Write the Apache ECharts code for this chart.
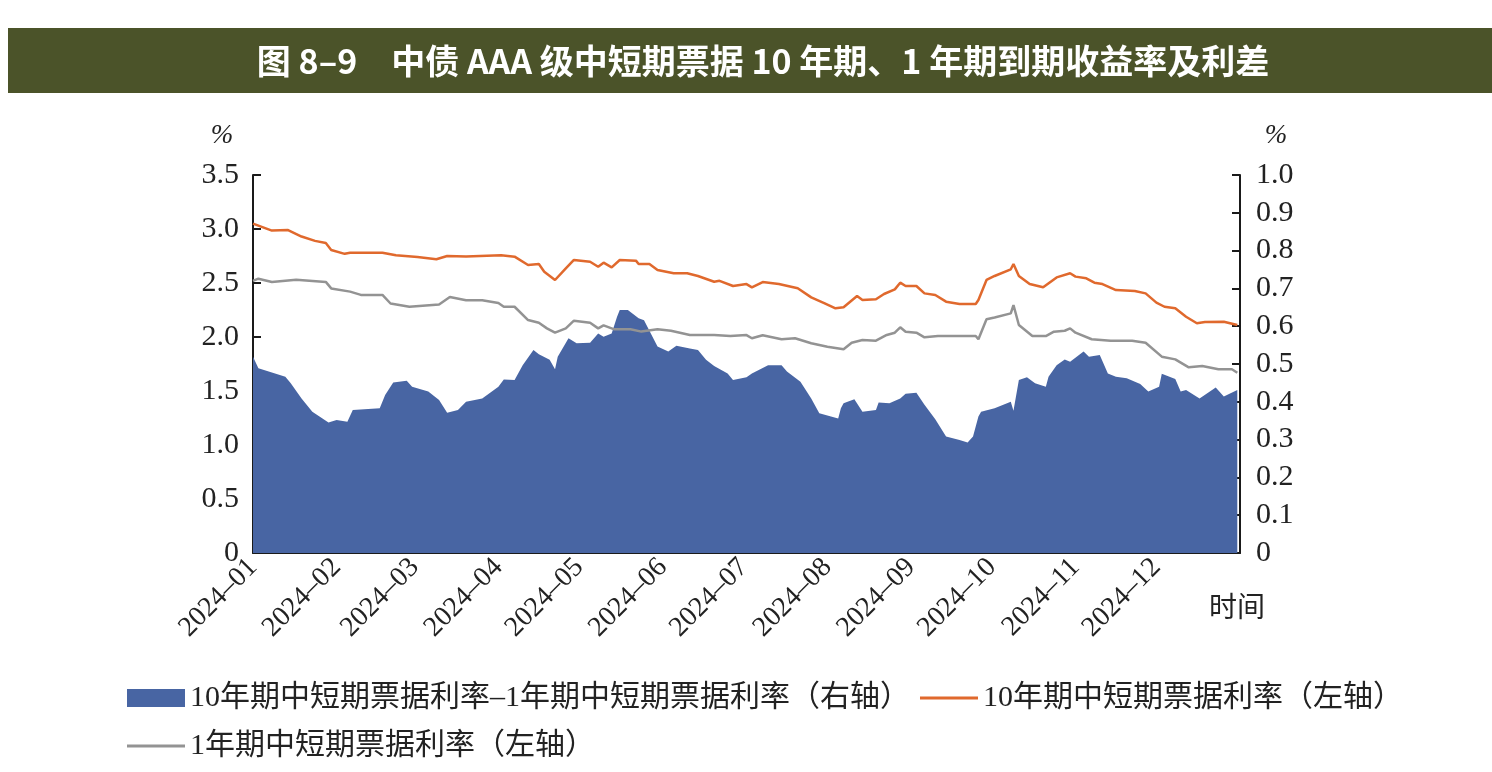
<!DOCTYPE html>
<html>
<head>
<meta charset="utf-8">
<script src="https://cdn.jsdelivr.net/npm/echarts@6/dist/echarts.min.js"></script>
<style>
  html, body { margin: 0; padding: 0; background: #fff; }
  #chart { width: 1492px; height: 772px; }
</style>
</head>
<body>
<div id="chart"></div>
<script>
// 10年期收益率（左轴），[月-日, %]
var rate10y = [
    ['01-01', 3.05], ['01-08', 2.985], ['01-14', 2.99], ['01-19', 2.93], ['01-24', 2.89], ['01-28', 2.87],
    ['01-30', 2.805], ['02-04', 2.77], ['02-06', 2.78], ['02-18', 2.78], ['02-23', 2.756], ['03-02', 2.74],
    ['03-09', 2.72], ['03-13', 2.75], ['03-20', 2.745], ['04-02', 2.756], ['04-07', 2.744], ['04-12', 2.667],
    ['04-16', 2.676], ['04-18', 2.605], ['04-22', 2.528], ['04-26', 2.636], ['04-29', 2.713], ['05-05', 2.697],
    ['05-08', 2.651], ['05-10', 2.688], ['05-13', 2.645], ['05-16', 2.713], ['05-22', 2.707], ['05-23', 2.676],
    ['05-27', 2.676], ['05-30', 2.62], ['06-05', 2.59], ['06-10', 2.59], ['06-14', 2.565], ['06-20', 2.512],
    ['06-22', 2.52], ['06-27', 2.472], ['07-02', 2.49], ['07-04', 2.46], ['07-08', 2.509], ['07-14', 2.49],
    ['07-21', 2.451], ['07-26', 2.367], ['07-31', 2.312], ['08-04', 2.266], ['08-07', 2.275], ['08-12', 2.38],
    ['08-14', 2.343], ['08-19', 2.349], ['08-22', 2.398], ['08-26', 2.441], ['08-28', 2.503], ['08-30', 2.472],
    ['09-03', 2.472], ['09-06', 2.404], ['09-10', 2.389], ['09-14', 2.327], ['09-19', 2.306], ['09-25', 2.306],
    ['09-26', 2.343], ['09-29', 2.528], ['10-02', 2.565], ['10-08', 2.627], ['10-09', 2.676], ['10-11', 2.565],
    ['10-15', 2.49], ['10-20', 2.46], ['10-25', 2.552], ['10-30', 2.59], ['11-01', 2.559], ['11-05', 2.543],
    ['11-08', 2.503], ['11-11', 2.49], ['11-16', 2.435], ['11-23', 2.426], ['11-27', 2.404], ['12-01', 2.318],
    ['12-04', 2.28], ['12-08', 2.266], ['12-12', 2.188], ['12-16', 2.127], ['12-19', 2.139], ['12-26', 2.142],
    ['12-31', 2.111]
];

// 1年期收益率（左轴）
var rate1y = [
    ['01-01', 2.52], ['01-03', 2.54], ['01-08', 2.51], ['01-17', 2.53], ['01-28', 2.51], ['01-30', 2.45],
    ['02-06', 2.42], ['02-10', 2.39], ['02-18', 2.39], ['02-21', 2.31], ['02-28', 2.28], ['03-10', 2.30],
    ['03-14', 2.37], ['03-20', 2.34], ['03-26', 2.34], ['04-01', 2.315], ['04-03', 2.28], ['04-07', 2.28],
    ['04-12', 2.157], ['04-16', 2.132], ['04-19', 2.08], ['04-22', 2.04], ['04-26', 2.08], ['04-29', 2.151],
    ['05-05', 2.132], ['05-08', 2.08], ['05-10', 2.108], ['05-14', 2.071], ['05-20', 2.071], ['05-24', 2.05],
    ['05-30', 2.071], ['06-04', 2.058], ['06-11', 2.019], ['06-20', 2.019], ['06-26', 2.009], ['07-02', 2.018],
    ['07-04', 1.988], ['07-08', 2.016], ['07-15', 1.979], ['07-20', 1.988], ['07-26', 1.942], ['08-01', 1.91],
    ['08-07', 1.886], ['08-10', 1.947], ['08-14', 1.972], ['08-19', 1.966], ['08-23', 2.019], ['08-26', 2.04],
    ['08-28', 2.09], ['08-30', 2.049], ['09-03', 2.04], ['09-06', 1.997], ['09-11', 2.009], ['09-25', 2.009],
    ['09-26', 1.979], ['09-29', 2.164], ['10-02', 2.18], ['10-08', 2.219], ['10-09', 2.296], ['10-11', 2.111],
    ['10-16', 2.009], ['10-21', 2.009], ['10-24', 2.049], ['10-28', 2.058], ['10-30', 2.08], ['11-01', 2.04],
    ['11-07', 1.979], ['11-14', 1.966], ['11-22', 1.966], ['11-27', 1.947], ['12-03', 1.818], ['12-08', 1.793],
    ['12-13', 1.719], ['12-18', 1.731], ['12-24', 1.701], ['12-29', 1.701], ['12-31', 1.669]
];

// 利差（右轴）
var spread = [
    ['01-01', 0.519], ['01-03', 0.489], ['01-13', 0.466], ['01-15', 0.449], ['01-19', 0.409], ['01-23', 0.374],
    ['01-29', 0.345], ['02-01', 0.352], ['02-05', 0.347], ['02-07', 0.378], ['02-17', 0.383], ['02-19', 0.418],
    ['02-22', 0.451], ['02-27', 0.456], ['02-29', 0.44], ['03-06', 0.427], ['03-10', 0.405], ['03-13', 0.371],
    ['03-17', 0.378], ['03-20', 0.40], ['03-26', 0.409], ['04-01', 0.44], ['04-03', 0.459], ['04-07', 0.458],
    ['04-10', 0.497], ['04-14', 0.537], ['04-16', 0.526], ['04-20', 0.511], ['04-22', 0.486], ['04-23', 0.519],
    ['04-27', 0.568], ['04-30', 0.555], ['05-05', 0.556], ['05-08', 0.581], ['05-10', 0.572], ['05-13', 0.581],
    ['05-15', 0.625], ['05-16', 0.643], ['05-19', 0.643], ['05-23', 0.621], ['05-25', 0.616], ['05-30', 0.546],
    ['06-03', 0.533], ['06-06', 0.548], ['06-11', 0.541], ['06-14', 0.537], ['06-17', 0.511], ['06-20', 0.495],
    ['06-25', 0.475], ['06-27', 0.458], ['07-02', 0.465], ['07-04', 0.475], ['07-10', 0.497], ['07-15', 0.497],
    ['07-17', 0.48], ['07-22', 0.453], ['07-26', 0.409], ['07-29', 0.37], ['08-05', 0.356], ['08-06', 0.383],
    ['08-07', 0.396], ['08-11', 0.407], ['08-14', 0.374], ['08-19', 0.378], ['08-20', 0.398], ['08-24', 0.396],
    ['08-28', 0.409], ['08-30', 0.421], ['09-03', 0.424], ['09-06', 0.392], ['09-10', 0.354], ['09-14', 0.308],
    ['09-19', 0.299], ['09-22', 0.292], ['09-24', 0.308], ['09-26', 0.361], ['09-27', 0.374], ['10-02', 0.383],
    ['10-08', 0.40], ['10-09', 0.376], ['10-11', 0.458], ['10-14', 0.465], ['10-17', 0.449], ['10-21', 0.44],
    ['10-22', 0.466], ['10-25', 0.497], ['10-28', 0.512], ['10-30', 0.506], ['11-04', 0.533], ['11-06', 0.519],
    ['11-10', 0.524], ['11-13', 0.475], ['11-16', 0.466], ['11-20', 0.462], ['11-25', 0.447], ['11-28', 0.427],
    ['12-02', 0.44], ['12-03', 0.474], ['12-08', 0.46], ['12-10', 0.427], ['12-12', 0.431], ['12-17', 0.409],
    ['12-23', 0.438], ['12-26', 0.414], ['12-31', 0.431]
];

var leftTicks = { min: 0, max: 3.5, step: 0.5 };
var rightTicks = { min: 0, max: 1.0, step: 0.1 };

var name_spread = '10年期中短期票据利率–1年期中短期票据利率（右轴）';
var name_10y = '10年期中短期票据利率（左轴）';
var name_1y = '1年期中短期票据利率（左轴）';

// 每日类目：2024-01-01 至 2025-01-01
var days = [];
for (var t = Date.UTC(2024, 0, 1); t <= Date.UTC(2025, 0, 1); t += 86400000)
    days.push(new Date(t).toISOString().slice(0, 10));

function toSeries(list) {
    return list.map(function (p) { return ['2024-' + p[0], p[1]]; });
}
function isMonthStart(idx, val) {
    return val.slice(8) === '01';
}

var serif = "'Liberation Serif', 'Times New Roman', 'Noto Sans CJK SC', serif";
var lineIcon = 'path://M0,0L58,0L58,3L0,3Z';
var chart = echarts.init(document.getElementById('chart'));

var option = {
    backgroundColor: '#fff',
    animation: false,
    graphic: [
        { type: 'rect', shape: { x: 8, y: 28, width: 1484, height: 65 }, style: { fill: '#4b5329' } },
        {
            type: 'text', x: 763, y: 61,
            style: {
                text: '图 8–9　中债 AAA 级中短期票据 10 年期、1 年期到期收益率及利差',
                fill: '#fff', font: "bold 34px 'Noto Sans CJK SC'", align: 'center', verticalAlign: 'middle'
            }
        },
        { type: 'text', x: 222, y: 136, style: { text: '%', fill: '#222', font: "italic 27px " + serif, align: 'center', verticalAlign: 'middle' } },
        { type: 'text', x: 1276, y: 136, style: { text: '%', fill: '#222', font: "italic 27px " + serif, align: 'center', verticalAlign: 'middle' } },
        { type: 'text', x: 1237, y: 610, style: { text: '时间', fill: '#222', font: "28px " + serif, align: 'center', verticalAlign: 'middle' } }
    ],
    grid: { left: 253, right: 252, top: 175, bottom: 219 },
    legend: [
        {
            left: 122, top: 678, itemWidth: 58, itemHeight: 18, itemGap: 10,
            textStyle: { fontFamily: serif, fontSize: 30, color: '#222' },
            data: [{ name: name_spread, icon: 'rect' }, { name: name_10y, icon: lineIcon }]
        },
        {
            left: 122, top: 726, itemWidth: 58, itemHeight: 18,
            textStyle: { fontFamily: serif, fontSize: 30, color: '#222' },
            data: [{ name: name_1y, icon: lineIcon }]
        }
    ],
    xAxis: {
        type: 'category',
        data: days,
        boundaryGap: false,
        axisLine: { lineStyle: { color: '#1a1a1a', width: 2 } },
        axisTick: { inside: true, length: 8, interval: isMonthStart, lineStyle: { color: '#1a1a1a', width: 2 } },
        axisLabel: {
            interval: isMonthStart, rotate: 45, margin: 10,
            fontFamily: serif, fontSize: 28, color: '#222',
            formatter: function (v) { return v.slice(0, 4) === '2025' ? '' : v.slice(0, 4) + '–' + v.slice(5, 7); }
        },
        splitLine: { show: false }
    },
    yAxis: [
        {
            type: 'value', min: leftTicks.min, max: leftTicks.max, interval: leftTicks.step,
            axisLine: { show: true, lineStyle: { color: '#1a1a1a', width: 2 } },
            axisTick: { show: true, inside: true, length: 8, lineStyle: { color: '#1a1a1a', width: 2 } },
            axisLabel: {
                margin: 14, fontFamily: serif, fontSize: 30, color: '#222',
                formatter: function (v) { return v === 0 ? '0' : v.toFixed(1); }
            },
            splitLine: { show: false }
        },
        {
            type: 'value', position: 'right', min: rightTicks.min, max: rightTicks.max, interval: rightTicks.step,
            axisLine: { show: true, lineStyle: { color: '#1a1a1a', width: 2 } },
            axisTick: { show: true, inside: true, length: 8, lineStyle: { color: '#1a1a1a', width: 2 } },
            axisLabel: {
                margin: 16, fontFamily: serif, fontSize: 30, color: '#222',
                formatter: function (v) { return v === 0 ? '0' : v.toFixed(1); }
            },
            splitLine: { show: false }
        }
    ],
    series: [
        {
            name: name_spread, type: 'line', yAxisIndex: 1, symbol: 'none',
            data: toSeries(spread),
            itemStyle: { color: '#4865a3' },
            lineStyle: { width: 0, color: '#4865a3' },
            areaStyle: { color: '#4865a3', opacity: 1 },
            z: 1
        },
        {
            name: name_10y, type: 'line', yAxisIndex: 0, symbol: 'none',
            data: toSeries(rate10y),
            itemStyle: { color: '#e0692d' },
            lineStyle: { width: 2.5, color: '#e0692d' },
            z: 3
        },
        {
            name: name_1y, type: 'line', yAxisIndex: 0, symbol: 'none',
            data: toSeries(rate1y),
            itemStyle: { color: '#939393' },
            lineStyle: { width: 2.5, color: '#939393' },
            z: 2
        }
    ]
};
chart.setOption(option);
</script>
</body>
</html>
